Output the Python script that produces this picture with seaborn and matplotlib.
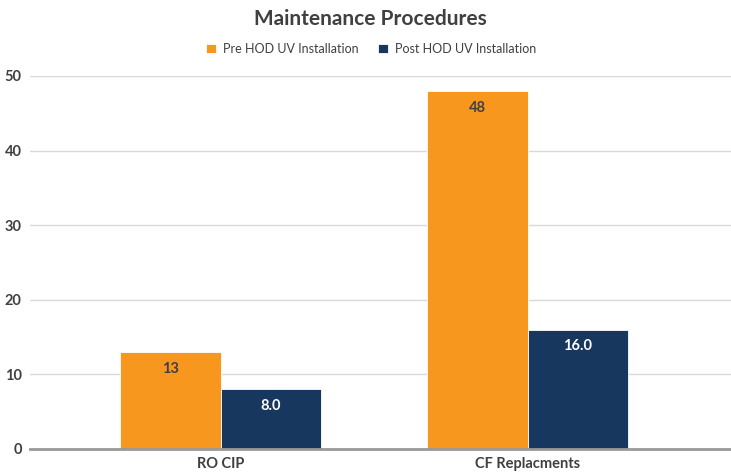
import matplotlib
matplotlib.use("Agg")
import matplotlib.pyplot as plt
import seaborn as sns
import pandas as pd

# dados
categorias = ["RO CIP", "CF Replacments"]
pre_hod = [13, 48]
post_hod = [8.0, 16.0]
series = ["Pre HOD UV Installation", "Post HOD UV Installation"]
rotulos_pre = ["13", "48"]
rotulos_post = ["8.0", "16.0"]

df = pd.DataFrame({
    "categoria": categorias * 2,
    "valor": pre_hod + post_hod,
    "serie": [series[0]] * 2 + [series[1]] * 2,
})

# cores e fontes
laranja = "#F7971E"
azul = "#17375E"
cinza_txt = "#404040"

sns.set_style("white")
plt.rcParams["font.family"] = ["Lato", "DejaVu Sans"]

fig = plt.figure(figsize=(7.31, 4.74), dpi=100)
ax = fig.add_axes([30 / 731, 25 / 474, 701 / 731, 373 / 474])

sns.barplot(data=df, x="categoria", y="valor", hue="serie", order=categorias,
            hue_order=series, palette=[laranja, azul], saturation=1, width=0.652,
            edgecolor="white", linewidth=0.6, ax=ax, legend=True)

ax.set_ylim(0, 50)
ax.set_xlim((30 - 220.5) / 307, (731 - 220.5) / 307)
ax.set_yticks([0, 10, 20, 30, 40, 50])
ax.yaxis.grid(True, color="#d9d9d9", linewidth=1)
ax.set_axisbelow(True)
for s in ["top", "right", "left"]:
    ax.spines[s].set_visible(False)
ax.spines["bottom"].set_color("#999999")
ax.spines["bottom"].set_linewidth(2)
ax.set_xlabel("")
ax.set_ylabel("")
ax.tick_params(axis="both", length=0, labelsize=10.5, colors=cinza_txt, pad=6)
for t in ax.get_xticklabels() + ax.get_yticklabels():
    t.set_fontweight("bold")
ax.tick_params(axis="y", pad=6)

# rótulos das barras
for cont, rot, cor in zip(ax.containers, [rotulos_pre, rotulos_post], [cinza_txt, "white"]):
    ax.bar_label(cont, labels=rot, padding=-17, color=cor, fontsize=10.5,
                 fontweight="bold")

handles, labels = ax.get_legend_handles_labels()
ax.legend(handles, labels, loc="center", bbox_to_anchor=(371 / 731, 1 - 49 / 474),
          bbox_transform=fig.transFigure, ncol=2, frameon=False, fontsize=9,
          handlelength=0.8, handleheight=0.8, columnspacing=1.5, handletextpad=0.6,
          labelcolor=cinza_txt)

fig.text(370 / 731, 1 - 19 / 474, "Maintenance Procedures", ha="center", va="center",
         fontsize=15, fontweight="bold", color=cinza_txt)

fig.savefig("out.png", dpi=100)
